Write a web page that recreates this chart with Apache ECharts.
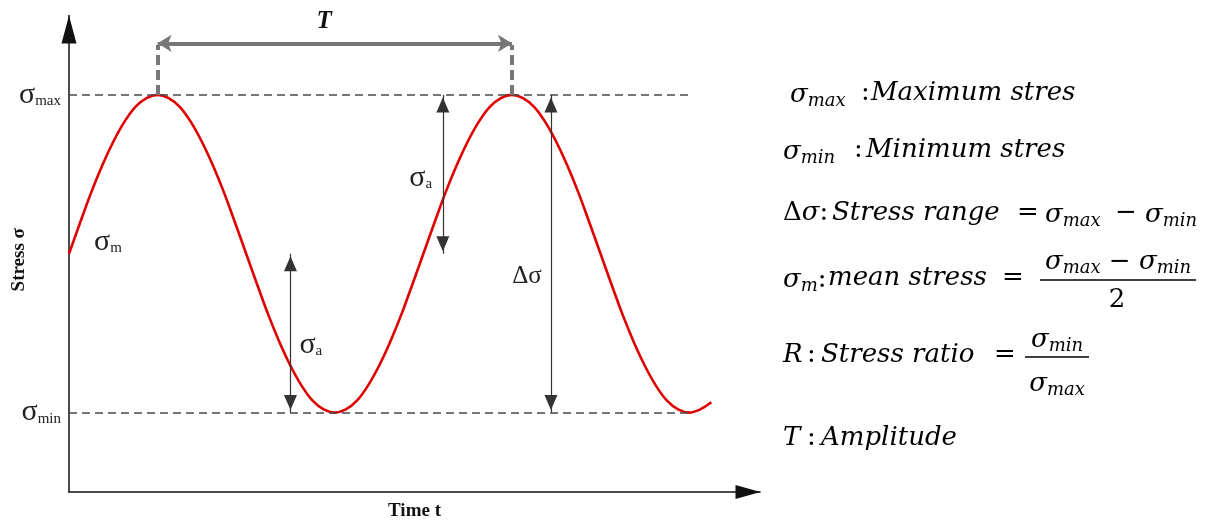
<!DOCTYPE html>
<html>
<head>
<meta charset="utf-8">
<script src="https://cdn.jsdelivr.net/npm/echarts@6/dist/echarts.min.js"></script>
<style>
  html, body { margin: 0; padding: 0; background: #fff; }
  #chart { width: 1216px; height: 524px; }
</style>
</head>
<body>
<div id="chart"></div>
<script>
// Time samples: one time unit is a quarter of the load period, sampled every 1/8 unit.
const time = [0, 0.125, 0.25, 0.375, 0.5, 0.625, 0.75, 0.875, 1, 1.125, 1.25, 1.375, 1.5, 1.625, 1.75, 1.875,
              2, 2.125, 2.25, 2.375, 2.5, 2.625, 2.75, 2.875, 3, 3.125, 3.25, 3.375, 3.5, 3.625, 3.75, 3.875,
              4, 4.125, 4.25, 4.375, 4.5, 4.625, 4.75, 4.875, 5, 5.125, 5.25, 5.375, 5.5, 5.625, 5.75, 5.875,
              6, 6.125, 6.25, 6.375, 6.5, 6.625, 6.75, 6.875, 7, 7.125, 7.25];
// Stress read along the cycle
const stress = [3.00, 3.39, 3.77, 4.11, 4.41, 4.66, 4.85, 4.96, 5.00, 4.96, 4.85, 4.66, 4.41, 4.11, 3.77, 3.39,
                3.00, 2.61, 2.23, 1.89, 1.59, 1.34, 1.15, 1.04, 1.00, 1.04, 1.15, 1.34, 1.59, 1.89, 2.23, 2.61,
                3.00, 3.39, 3.77, 4.11, 4.41, 4.66, 4.85, 4.96, 5.00, 4.96, 4.85, 4.66, 4.41, 4.11, 3.77, 3.39,
                3.00, 2.61, 2.23, 1.89, 1.59, 1.34, 1.15, 1.04, 1.00, 1.04, 1.13];

// Characteristic stress levels
const sigmaMax = 5;
const sigmaMean = 3;
const sigmaMin = 1;

// Period marker: between the two peaks
const periodStart = 1;
const periodEnd = 5;

// Dimension arrows (time position of each vertical arrow)
const amplitudeArrowTimes = [2.5, 4.22];
const rangeArrowTime = 5.44;

const serif = '"Liberation Serif", "Times New Roman", serif';
const mathFamily = '"DejaVu Serif", serif';

const labelRich = {
  s: { fontFamily: serif, fontSize: 30, color: '#222' },
  b: { fontFamily: serif, fontSize: 15, color: '#222', padding: [12, 0, 0, 0] },
  d: { fontFamily: serif, fontSize: 25, color: '#222' },
  t: { fontFamily: serif, fontSize: 25, fontWeight: 'bold', fontStyle: 'italic', color: '#111' }
};

const curve = time.map((t, i) => [t, stress[i]]);

// Formula panel on the right
const mathSize = 26;
const mathRich = {
  s: { fontFamily: mathFamily, fontStyle: 'italic', fontSize: mathSize, color: '#000' },
  b: { fontFamily: mathFamily, fontStyle: 'italic', fontSize: 18, color: '#000', padding: [12, 0, 0, 0] },
  u: { fontFamily: mathFamily, fontStyle: 'normal', fontSize: mathSize, color: '#000' }
};
function mathText(x, y, text, align) {
  const a = align || 'left';
  return {
    type: 'text', x: x, y: y, silent: true,
    style: {
      text: text, fill: '#000',
      fontFamily: mathFamily, fontStyle: 'italic', fontSize: mathSize,
      align: a, textAlign: a, verticalAlign: 'middle', textVerticalAlign: 'middle',
      rich: mathRich
    }
  };
}
function bar(x1, x2, y) {
  return { type: 'line', silent: true, shape: { x1: x1, y1: y, x2: x2, y2: y }, style: { stroke: '#000', lineWidth: 1.6 } };
}
const SMAX = '{s|σ}{b|max}';
const SMIN = '{s|σ}{b|min}';
const panel = [
  mathText(790, 95, SMAX), mathText(861, 93, '{u|:}'), mathText(871, 93, 'Maximum stres'),
  mathText(783, 152, SMIN), mathText(854, 150, '{u|:}'), mathText(866, 150, 'Minimum stres'),
  mathText(783, 213, '{u|Δ}σ{u|:}'), mathText(832, 213, 'Stress range'), mathText(1017, 213, '{u|=}'),
  mathText(1045, 215, SMAX), mathText(1115, 213, '{u|−}'), mathText(1145, 215, SMIN),
  mathText(783, 280, '{s|σ}{b|m}{u|:}'), mathText(828, 278, 'mean stress'), mathText(1002, 278, '{u|=}'),
  mathText(1118, 262, SMAX + ' {u|−} ' + SMIN, 'center'), bar(1040, 1196, 280), mathText(1117, 300, '{u|2}', 'center'),
  mathText(783, 355, 'R'), mathText(807, 355, '{u|:}'), mathText(821, 355, 'Stress ratio'), mathText(994, 355, '{u|=}'),
  mathText(1057, 340, SMIN, 'center'), bar(1025, 1089, 357), mathText(1057, 384, SMAX, 'center'),
  mathText(783, 438, 'T'), mathText(807, 438, '{u|:}'), mathText(821, 438, 'Amplitude')
];

const chart = echarts.init(document.getElementById('chart'), null, { renderer: 'canvas' });
chart.setOption({
  animation: false,
  backgroundColor: '#fff',
  grid: { left: 69, top: 15.5, width: 691, height: 476.5, outerBoundsMode: 'none', containLabel: false },
  xAxis: {
    type: 'value', min: 0, max: 7.8,
    name: 'Time t', nameLocation: 'middle', nameGap: 10,
    nameTextStyle: { fontFamily: serif, fontWeight: 'bold', fontSize: 19, color: '#111', verticalAlign: 'top' },
    axisLine: { lineStyle: { color: '#111', width: 1.5 }, symbol: ['none', 'triangle'], symbolSize: [14, 25], symbolOffset: [0, -12] },
    axisTick: { show: false }, axisLabel: { show: false }, splitLine: { show: false }
  },
  yAxis: {
    type: 'value', min: 0, max: 6, interval: 1,
    name: 'Stress σ', nameLocation: 'middle', nameRotate: 90, nameGap: 40, nameMoveOverlap: false,
    nameTextStyle: { fontFamily: serif, fontWeight: 'bold', fontSize: 19, color: '#111', padding: [0, 12, 0, 0] },
    axisLine: { show: true, lineStyle: { color: '#111', width: 1.5 }, symbol: ['none', 'triangle'], symbolSize: [15, 28], symbolOffset: [0, -14] },
    axisTick: { show: false }, splitLine: { show: false },
    axisLabel: {
      margin: 8,
      formatter: function (v) {
        if (v === sigmaMax) return SMAX;
        if (v === sigmaMin) return SMIN;
        return '';
      },
      rich: labelRich
    }
  },
  graphic: { elements: panel },
  series: [
    {
      name: 'Stress', type: 'line', data: curve, smooth: 0.4, showSymbol: false, clip: false, z: 4,
      lineStyle: { color: '#e00000', width: 2.6 },
      markLine: {
        silent: true, symbol: 'none', animation: false,
        label: { show: false },
        lineStyle: { type: [8, 5], color: '#4a4a4a', width: 1.5 },
        data: [
          [{ coord: [0, sigmaMax] }, { coord: [7.0, sigmaMax] }],
          [{ coord: [-0.1, sigmaMean] }, { coord: [6.93, sigmaMean] }],
          [{ coord: [0, sigmaMin] }, { coord: [7.0, sigmaMin] }]
        ]
      },
      markPoint: {
        silent: true, symbol: 'circle', symbolSize: 1, animation: false,
        itemStyle: { color: 'rgba(0,0,0,0)' },
        label: { show: true, position: 'inside', rich: labelRich },
        data: [
          { coord: [0.44, 3.15], label: { formatter: '{s|σ}{b|m}' } },
          { coord: [2.73, 1.85], label: { formatter: '{s|σ}{b|a}' } },
          { coord: [3.97, 3.95], label: { formatter: '{s|σ}{b|a}' } },
          { coord: [5.17, 2.72], label: { formatter: '{d|Δσ}' } },
          { coord: [2.88, 5.93], label: { formatter: '{t|T}' } }
        ]
      }
    },
    {
      name: 'amplitude arrows', type: 'line', data: [], clip: false,
      markLine: {
        silent: true, animation: false,
        symbol: ['triangle', 'triangle'], symbolSize: [13, 15], symbolOffset: [[0, 10], [0, 10]],
        label: { show: false },
        lineStyle: { type: 'solid', color: '#333', width: 1.2 },
        itemStyle: { color: '#111' },
        data: [
          [{ coord: [amplitudeArrowTimes[0], sigmaMean] }, { coord: [amplitudeArrowTimes[0], sigmaMin] }],
          [{ coord: [amplitudeArrowTimes[1], sigmaMax] }, { coord: [amplitudeArrowTimes[1], sigmaMean] }],
          [{ coord: [rangeArrowTime, sigmaMax] }, { coord: [rangeArrowTime, sigmaMin] }]
        ]
      }
    },
    {
      name: 'period guides', type: 'line', data: [], clip: false,
      markLine: {
        silent: true, animation: false, symbol: 'none',
        label: { show: false },
        lineStyle: { type: [10, 5], color: '#777', width: 4 },
        data: [
          [{ coord: [periodStart, sigmaMax] }, { coord: [periodStart, 5.63] }],
          [{ coord: [periodEnd, sigmaMax] }, { coord: [periodEnd, 5.63] }]
        ]
      }
    },
    {
      name: 'period arrow', type: 'line', data: [], clip: false,
      markLine: {
        silent: true, animation: false,
        symbol: ['arrow', 'arrow'], symbolSize: [13, 14],
        label: { show: false },
        lineStyle: { type: 'solid', color: '#777', width: 4 },
        itemStyle: { color: '#777' },
        data: [
          [{ coord: [periodStart, 5.65] }, { coord: [periodEnd, 5.65] }]
        ]
      }
    }
  ]
});
</script>
</body>
</html>
